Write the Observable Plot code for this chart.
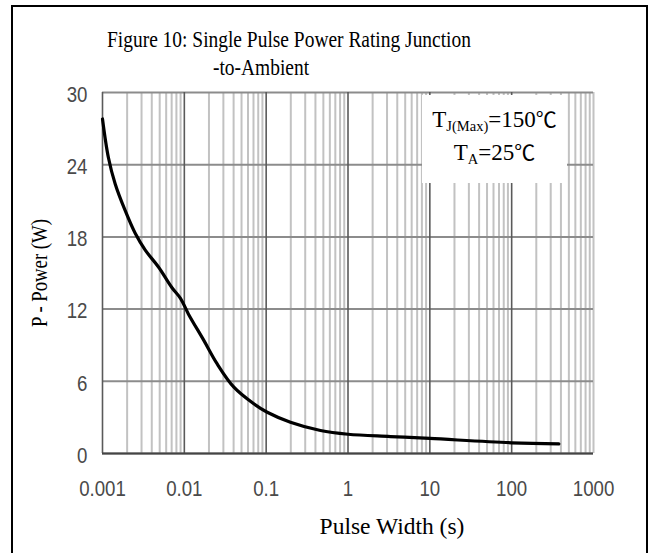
<!DOCTYPE html>
<html><head><meta charset="utf-8">
<script src="https://cdn.jsdelivr.net/npm/d3@7"></script>
<script src="https://cdn.jsdelivr.net/npm/@observablehq/plot@0.6"></script>
<style>
html,body{margin:0;padding:0;background:#fff;width:654px;height:553px;overflow:hidden;}
#wrap{position:relative;width:654px;height:553px;}
#frame{position:absolute;left:11px;top:5px;width:637px;height:620px;border:2px solid #000;box-sizing:border-box;}
#chart{position:absolute;left:0;top:0;}
.serif{font-family:"Liberation Serif","Times New Roman",serif;color:#000;position:absolute;white-space:nowrap;line-height:1;}
.title{font-size:24px;transform-origin:left center;transform:scaleX(0.81);}
#ylab{font-size:24px;left:39px;top:273px;transform:translate(-50%,-50%) rotate(-90deg) scaleX(0.78);}
#xlab{font-size:23.5px;left:392px;top:515px;transform:translateX(-50%);}
#note{position:absolute;left:422px;top:95px;width:145px;height:88px;background:#fff;}
#note .serif{width:100%;text-align:center;font-size:23px;left:0;}
#note sub{font-size:14.5px;vertical-align:-4px;line-height:0;}
.deg{font-family:"Noto Sans CJK SC","DejaVu Serif",serif;font-size:21px;}
</style>
</head><body>
<div id="wrap">
  <div id="frame"></div>
  <div id="chart"></div>
  <div class="serif title" style="left:107px;top:27px;">Figure 10: Single Pulse Power Rating Junction</div>
  <div class="serif title" style="left:213px;top:55px;">-to-Ambient</div>
  <div id="ylab" class="serif">P - Power (W)</div>
  <div id="xlab" class="serif">Pulse Width (s)</div>
  <div id="note">
    <div class="serif" style="top:12.5px;">T<sub>J(Max)</sub>=150<span class="deg">℃</span></div>
    <div class="serif" style="top:46px;">T<sub>A</sub>=25<span class="deg">℃</span></div>
  </div>
</div>
<script>
// Data
const pulseWidth = [0.001, 0.00118, 0.00143, 0.00189, 0.00251, 0.00333, 0.00483, 0.00703, 0.00897, 0.0112, 0.0173, 0.0251, 0.0403, 0.0706, 0.103, 0.198, 0.461, 1, 3.3, 10, 100, 377];
const power      = [27.8,  24.6,    22.4,    20.2,    18.3,    16.9,    15.5,    13.8,    12.9,    11.6,   9.4,    7.46,   5.51,   4.13,   3.43,  2.60,  1.91,  1.6, 1.41, 1.25, 0.89, 0.80];

const decades = [0.001, 0.01, 0.1, 1, 10, 100, 1000];
const xTickLabels = ["0.001", "0.01", "0.1", "1", "10", "100", "1000"];
const minorMultipliers = [2, 3, 4, 5, 6, 7, 8, 9];
const yTicks = [0, 6, 12, 18, 24, 30];

const data = pulseWidth.map((w, i) => ({w, p: power[i]}));
const minorGrid = decades.slice(0, -1).flatMap(d => minorMultipliers.map(m => d * m));
const majorGrid = decades.slice(0, -1);

const chart = Plot.plot({
  width: 654, height: 553,
  marginLeft: 102, marginRight: 61, marginTop: 92, marginBottom: 100,
  style: {background: "transparent", color: "#4a4a4a", fontFamily: "'Liberation Sans', Arial, sans-serif"},
  x: {type: "log", domain: [0.001, 1000]},
  y: {domain: [0, 30]},
  marks: [
    Plot.ruleX(minorGrid.concat([1000]), {stroke: "#c2c2c2", strokeWidth: 2}),
    Plot.ruleY(yTicks, {stroke: "#8c8c8c", strokeWidth: 2}),
    Plot.ruleX(majorGrid, {stroke: "#5a5a5a", strokeWidth: 1.6}),
    Plot.ruleY([0], {stroke: "#444", strokeWidth: 2}),
    Plot.line(data, {x: "w", y: "p", stroke: "#000", strokeWidth: 3.2, curve: "catmull-rom"}),
    Plot.axisX({ticks: decades, tickFormat: d => xTickLabels[decades.indexOf(d)], tickSize: 0, tickPadding: 27, fontSize: 22.5, label: null}),
    Plot.axisY({ticks: yTicks, tickSize: 0, tickPadding: 15, fontSize: 22.5, dy: 2, label: null})
  ]
});
chart.querySelectorAll('g[aria-label$="tick label"] text').forEach(t => {
  t.setAttribute("transform", (t.getAttribute("transform") || "") + " scale(0.83,1)");
});
document.getElementById("chart").appendChild(chart);
</script>
</body></html>
